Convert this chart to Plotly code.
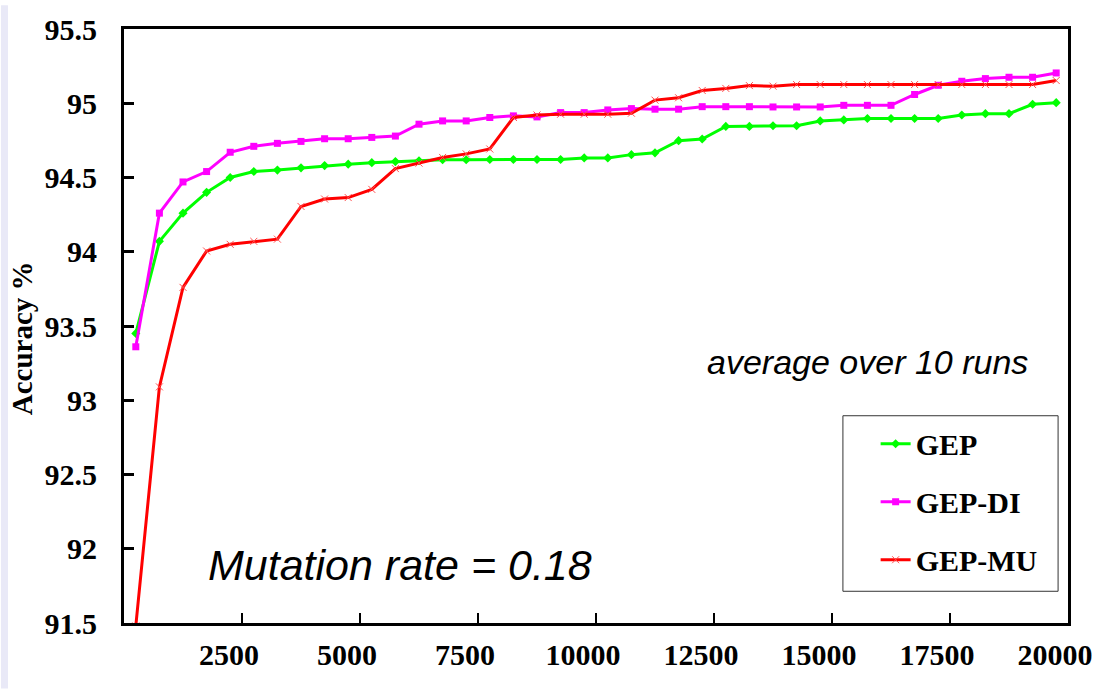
import plotly.graph_objects as go

# evaluations (x axis) and mean accuracy for each algorithm
evaluations = [250 + 500 * i for i in range(40)]

gep = [93.45, 94.07, 94.26, 94.40, 94.50, 94.54, 94.55, 94.565, 94.58, 94.59,
       94.60, 94.607, 94.613, 94.62, 94.62, 94.621, 94.621, 94.621, 94.621, 94.632,
       94.632, 94.654, 94.666, 94.748, 94.759, 94.844, 94.844, 94.848, 94.848, 94.881,
       94.888, 94.897, 94.897, 94.897, 94.897, 94.921, 94.930, 94.930, 94.993, 95.004]

gep_di = [93.36, 94.26, 94.47, 94.54, 94.67, 94.71, 94.73, 94.743, 94.761, 94.761,
          94.77, 94.779, 94.859, 94.881, 94.881, 94.904, 94.915, 94.908, 94.937, 94.937,
          94.955, 94.964, 94.96, 94.96, 94.977, 94.977, 94.977, 94.975, 94.975, 94.975,
          94.986, 94.986, 94.986, 95.059, 95.121, 95.148, 95.166, 95.175, 95.175, 95.204]

gep_mu = [91.48, 93.09, 93.76, 94.005, 94.05, 94.07, 94.085, 94.305, 94.355, 94.365,
          94.42, 94.56, 94.597, 94.635, 94.659, 94.692, 94.904, 94.921, 94.926, 94.926,
          94.926, 94.933, 95.021, 95.037, 95.086, 95.10, 95.119, 95.115, 95.126, 95.126,
          95.126, 95.126, 95.126, 95.126, 95.126, 95.126, 95.126, 95.126, 95.126, 95.153]

x_ticks = [2500, 5000, 7500, 10000, 12500, 15000, 17500, 20000]
y_ticks = [91.5, 92, 92.5, 93, 93.5, 94, 94.5, 95, 95.5]
y_tick_text = ["91.5", "92", "92.5", "93", "93.5", "94", "94.5", "95", "95.5"]

serif = "Liberation Serif"
sans = "Liberation Sans"

# plot area in pixels: left 124, right 1076, top 24, bottom 623
L, R, T, B = 124, 1076, 24, 623
PW, PH = R - L, B - T


def px(xp):
    return (xp - L) / PW


def py(yp):
    return (B - yp) / PH


fig = go.Figure()

fig.add_trace(go.Scatter(
    x=evaluations, y=gep, name="GEP", mode="lines+markers", legendgroup="a",
    line=dict(color="#00FF00", width=3),
    marker=dict(symbol="diamond", size=7, color="#00FF00"),
))
fig.add_trace(go.Scatter(
    x=evaluations, y=gep_di, name="GEP-DI", mode="lines+markers", legendgroup="b",
    line=dict(color="#FF00FF", width=3),
    marker=dict(symbol="square", size=7, color="#FF00FF"),
))
fig.add_trace(go.Scatter(
    x=evaluations, y=gep_mu, name="GEP-MU", mode="lines+markers", legendgroup="c",
    line=dict(color="#FF0000", width=3),
    marker=dict(symbol="x-thin", size=7, color="#FF0000",
                line=dict(color="#FF5050", width=1)),
))

fig.add_annotation(
    x=px(207), y=py(565), xref="paper", yref="paper", xanchor="left", yanchor="middle",
    text="<i>Mutation rate = 0.18</i>", showarrow=False,
    font=dict(family=sans, size=43, color="black"),
)
fig.add_annotation(
    x=px(1038), y=py(360), xref="paper", yref="paper", xanchor="right", yanchor="middle",
    text="<i>average over 10 runs</i>", showarrow=False,
    font=dict(family=sans, size=34, color="black"),
)
fig.add_annotation(
    x=px(22), y=py(336), xref="paper", yref="paper", xanchor="center", yanchor="middle",
    showarrow=False, text="<b>Accuracy %</b>", textangle=-90,
    font=dict(family=serif, size=29, color="black"),
)

# thin lavender strip along the left edge of the page
fig.add_shape(type="rect", xref="paper", yref="paper",
              x0=px(0), x1=px(7), y0=py(689), y1=py(0),
              fillcolor="#e9e9f7", line=dict(width=0), layer="below")

# legend frame
fig.add_shape(type="rect", xref="paper", yref="paper",
              x0=px(849), x1=px(1066), y0=py(591), y1=py(414),
              fillcolor="white", line=dict(color="#333333", width=1), layer="below")

fig.update_layout(
    width=1105, height=689,
    margin=dict(l=L, r=1105 - R, t=T, b=689 - B),
    paper_bgcolor="white", plot_bgcolor="white",
    font=dict(family=serif, color="black"),
    showlegend=True,
    legend=dict(
        x=px(882), y=py(416), xanchor="left", yanchor="top",
        bgcolor="rgba(0,0,0,0)", borderwidth=0,
        font=dict(family=serif, size=30, color="black", weight="bold"),
        tracegroupgap=16, itemwidth=30,
    ),
    xaxis=dict(
        range=[0, 20000], tickvals=x_ticks,
        ticktext=[str(v) for v in x_ticks],
        showgrid=False, zeroline=False,
        showline=True, linecolor="black", linewidth=3, mirror=True,
        ticks="inside", ticklen=10, tickwidth=1.5, tickcolor="black",
        tickfont=dict(family="Times New Roman", size=30, color="black", weight="bold"),
        ticklabelstandoff=3, ticklabelshift=-13,
    ),
    yaxis=dict(
        range=[91.5, 95.5], tickvals=y_ticks,
        ticktext=y_tick_text,
        showgrid=False, zeroline=False,
        showline=True, linecolor="black", linewidth=3, mirror=True,
        ticks="inside", ticklen=10, tickwidth=3, tickcolor="black",
        tickfont=dict(family="Times New Roman", size=30, color="black", weight="bold"),
        ticklabelstandoff=18,
    ),
)

fig.write_html("out.html")
